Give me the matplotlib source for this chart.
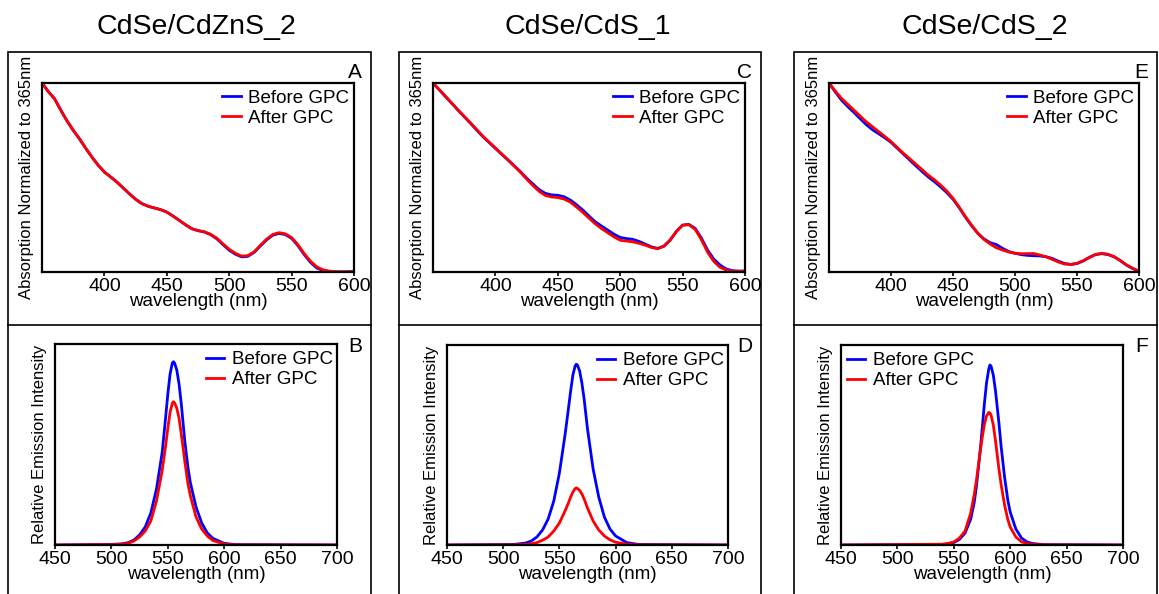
import numpy as np
import matplotlib
matplotlib.use("Agg")
import matplotlib.pyplot as plt
from matplotlib.patches import Rectangle

plt.rcParams['font.family'] = ['Liberation Sans', 'DejaVu Sans']

titles = ["CdSe/CdZnS_2", "CdSe/CdS_1", "CdSe/CdS_2"]
letters_top = ["A", "C", "E"]
letters_bot = ["B", "D", "F"]

# absorption, 350-600 nm every 5 nm
abs_nm = list(range(350, 601, 5))
abs_before_A = [1.0, 0.955, 0.917, 0.857, 0.80, 0.75, 0.705, 0.655, 0.608, 0.565, 0.529, 0.503, 0.476,
                0.445, 0.414, 0.385, 0.362, 0.348, 0.339, 0.330, 0.317, 0.296, 0.273, 0.250, 0.229, 0.219,
                0.212, 0.198, 0.176, 0.145, 0.115, 0.094, 0.080, 0.083, 0.104, 0.138, 0.170, 0.195, 0.204,
                0.198, 0.178, 0.140, 0.093, 0.052, 0.022, 0.008, 0.003, 0.001, 0.0, 0.001, 0.003]
abs_after_A = [1.0, 0.955, 0.917, 0.857, 0.80, 0.75, 0.705, 0.655, 0.608, 0.565, 0.529, 0.503, 0.476,
               0.445, 0.414, 0.385, 0.362, 0.348, 0.339, 0.330, 0.317, 0.296, 0.273, 0.250, 0.229, 0.219,
               0.213, 0.200, 0.179, 0.149, 0.120, 0.099, 0.084, 0.087, 0.107, 0.141, 0.174, 0.199, 0.208,
               0.202, 0.182, 0.145, 0.098, 0.058, 0.028, 0.012, 0.005, 0.002, 0.001, 0.001, 0.003]
abs_before_C = [1.0, 0.964, 0.928, 0.893, 0.857, 0.822, 0.787, 0.751, 0.716, 0.685, 0.654, 0.623, 0.593,
                0.562, 0.531, 0.497, 0.466, 0.436, 0.416, 0.408, 0.406, 0.398, 0.381, 0.356, 0.328, 0.296,
                0.266, 0.243, 0.222, 0.200, 0.183, 0.177, 0.173, 0.162, 0.148, 0.133, 0.125, 0.137, 0.169,
                0.215, 0.248, 0.252, 0.231, 0.180, 0.116, 0.068, 0.037, 0.016, 0.007, 0.005, 0.005]
abs_after_C = [1.0, 0.965, 0.930, 0.893, 0.857, 0.823, 0.790, 0.754, 0.718, 0.687, 0.656, 0.625, 0.594,
               0.561, 0.528, 0.492, 0.458, 0.427, 0.405, 0.397, 0.394, 0.386, 0.370, 0.344, 0.316, 0.285,
               0.255, 0.230, 0.208, 0.186, 0.168, 0.164, 0.160, 0.152, 0.142, 0.130, 0.123, 0.136, 0.168,
               0.214, 0.248, 0.250, 0.226, 0.172, 0.105, 0.056, 0.025, 0.010, 0.004, 0.003, 0.005]
abs_before_E = [1.0, 0.953, 0.910, 0.876, 0.845, 0.812, 0.780, 0.753, 0.732, 0.710, 0.686, 0.655, 0.624,
                0.593, 0.562, 0.532, 0.503, 0.478, 0.450, 0.420, 0.385, 0.340, 0.290, 0.245, 0.205, 0.175,
                0.155, 0.145, 0.125, 0.108, 0.099, 0.092, 0.088, 0.086, 0.085, 0.081, 0.072, 0.057, 0.045,
                0.040, 0.045, 0.058, 0.077, 0.092, 0.097, 0.092, 0.080, 0.060, 0.036, 0.018, 0.004]
abs_after_E = [1.0, 0.958, 0.919, 0.888, 0.857, 0.826, 0.795, 0.769, 0.743, 0.717, 0.690, 0.659, 0.628,
               0.600, 0.571, 0.542, 0.513, 0.488, 0.460, 0.428, 0.390, 0.343, 0.293, 0.247, 0.205, 0.172,
               0.148, 0.128, 0.116, 0.106, 0.099, 0.097, 0.097, 0.098, 0.090, 0.080, 0.067, 0.053, 0.042,
               0.040, 0.046, 0.060, 0.078, 0.093, 0.099, 0.094, 0.081, 0.060, 0.037, 0.019, 0.004]

# emission
em_nm_B = [450, 500, 510, 515, 520, 525, 530, 535, 540, 545, 548, 550, 552, 554, 555, 556, 558, 560,
           562, 565, 568, 570, 575, 580, 585, 590, 600, 610, 700]
em_before_B = [0.0, 0.003, 0.006, 0.012, 0.025, 0.05, 0.09, 0.16, 0.28, 0.46, 0.63, 0.75, 0.85, 0.905,
               0.912, 0.905, 0.87, 0.80, 0.70, 0.52, 0.38, 0.31, 0.19, 0.11, 0.06, 0.033, 0.008, 0.002, 0.0]
em_after_B = [0.0, 0.002, 0.004, 0.009, 0.02, 0.04, 0.07, 0.12, 0.22, 0.37, 0.49, 0.58, 0.66, 0.705,
              0.713, 0.707, 0.68, 0.63, 0.55, 0.42, 0.30, 0.245, 0.14, 0.08, 0.045, 0.022, 0.005, 0.001, 0.0]

em_nm_D = [450, 510, 520, 525, 530, 535, 540, 545, 550, 555, 558, 560, 562, 564, 565, 566, 568, 570,
           572, 575, 580, 585, 590, 595, 600, 610, 620, 700]
em_before_D = [0.0, 0.003, 0.01, 0.02, 0.04, 0.075, 0.13, 0.22, 0.36, 0.55, 0.68, 0.77, 0.85, 0.895,
               0.904, 0.90, 0.87, 0.81, 0.73, 0.58, 0.38, 0.24, 0.14, 0.08, 0.045, 0.012, 0.003, 0.0]
em_after_D = [0.0, 0.001, 0.003, 0.006, 0.012, 0.024, 0.04, 0.07, 0.11, 0.17, 0.21, 0.24, 0.265, 0.282,
              0.285, 0.283, 0.273, 0.255, 0.23, 0.185, 0.12, 0.075, 0.045, 0.026, 0.014, 0.004, 0.001, 0.0]

em_nm_F = [450, 540, 545, 550, 555, 560, 565, 568, 570, 573, 575, 577, 579, 581, 582, 583, 585, 587,
           590, 592, 595, 598, 600, 605, 610, 615, 620, 630, 700]
em_before_F = [0.0, 0.003, 0.006, 0.012, 0.028, 0.06, 0.13, 0.21, 0.29, 0.45, 0.57, 0.70, 0.81, 0.88,
               0.90, 0.895, 0.85, 0.77, 0.61, 0.49, 0.34, 0.22, 0.165, 0.08, 0.035, 0.015, 0.007, 0.002, 0.0]
em_after_F = [0.0, 0.004, 0.008, 0.015, 0.035, 0.07, 0.16, 0.25, 0.32, 0.45, 0.53, 0.60, 0.645, 0.663,
              0.66, 0.65, 0.60, 0.52, 0.38, 0.30, 0.20, 0.125, 0.09, 0.04, 0.016, 0.007, 0.003, 0.001, 0.0]

abs_sets = [(abs_before_A, abs_after_A), (abs_before_C, abs_after_C), (abs_before_E, abs_after_E)]
em_sets = [(em_nm_B, em_before_B, em_after_B), (em_nm_D, em_before_D, em_after_D), (em_nm_F, em_before_F, em_after_F)]

W, H = 1159, 594
fig = plt.figure(figsize=(W / 100, H / 100), dpi=100)


def px(l, t, r, b):
    return [l / W, 1 - b / H, (r - l) / W, (b - t) / H]


boxes = [(8, 371), (399, 761), (794, 1157)]
title_x = [196, 588, 985]
top_axes = [(42, 83, 354, 272), (433, 83, 745, 272), (829, 83, 1139, 272)]
bot_axes = [(55, 344, 337, 545), (447, 345, 728, 545), (841, 345, 1123, 545)]

legend_kw = dict(frameon=False, fontsize=13.5, handlelength=1.0, handletextpad=0.4,
                 labelspacing=0.15, borderpad=0, borderaxespad=0)

for i in range(3):
    bl, br = boxes[i]
    fig.patches.append(Rectangle((bl / W, -0.1), (br - bl) / W, 1.1 - 52 / H,
                                 transform=fig.transFigure, fill=False, lw=1.2, ec='black'))
    fig.lines.append(plt.Line2D([bl / W, br / W], [1 - 325 / H, 1 - 325 / H],
                                transform=fig.transFigure, lw=1.2, color='black'))
    fig.text(title_x[i] / W, 1 - 27 / H, titles[i], ha='center', va='center', fontsize=20.5)
    fig.text((br - 9) / W, 1 - 72 / H, letters_top[i], ha='right', va='center', fontsize=15)
    fig.text((br - 9) / W, 1 - 347 / H, letters_bot[i], ha='right', va='center', fontsize=15)

    # absorption
    ax = fig.add_axes(px(*top_axes[i]))
    before, after = abs_sets[i]
    ax.plot(abs_nm, before, color='#0000ff', lw=2.0, label='Before GPC')
    ax.plot(abs_nm, after, color='#ff0000', lw=2.0, label='After GPC')
    ax.set_xlim(350, 600)
    ax.set_ylim(0, 1)
    ax.set_xticks([400, 450, 500, 550, 600])
    ax.set_yticks([])
    ax.tick_params(axis='x', labelsize=14, length=3, width=1.2, pad=1)
    ax.set_xlabel('wavelength (nm)', fontsize=13.5, labelpad=-1)
    ax.set_ylabel('Absorption Normalized to 365nm', fontsize=12, labelpad=6)
    for s in ax.spines.values():
        s.set_linewidth(1.6)
    ax.legend(loc='upper right', bbox_to_anchor=(0.985, 0.965), **legend_kw)

    # emission
    ax = fig.add_axes(px(*bot_axes[i]))
    nm, before, after = em_sets[i]
    ax.plot(nm, before, color='#0000ff', lw=2.0, label='Before GPC')
    ax.plot(nm, after, color='#ff0000', lw=2.0, label='After GPC')
    ax.set_xlim(450, 700)
    ax.set_ylim(0, 1)
    ax.set_xticks([450, 500, 550, 600, 650, 700])
    ax.set_yticks([])
    ax.tick_params(axis='x', labelsize=14, length=3, width=1.2, pad=1)
    ax.set_xlabel('wavelength (nm)', fontsize=13.5, labelpad=-1)
    ax.set_ylabel('Relative Emission Intensity', fontsize=12, labelpad=6)
    for s in ax.spines.values():
        s.set_linewidth(1.6)
    if i == 2:
        ax.legend(loc='upper left', bbox_to_anchor=(0.02, 0.965), **legend_kw)
    else:
        ax.legend(loc='upper right', bbox_to_anchor=(0.985, 0.965), **legend_kw)

fig.savefig('out.png', dpi=100)
